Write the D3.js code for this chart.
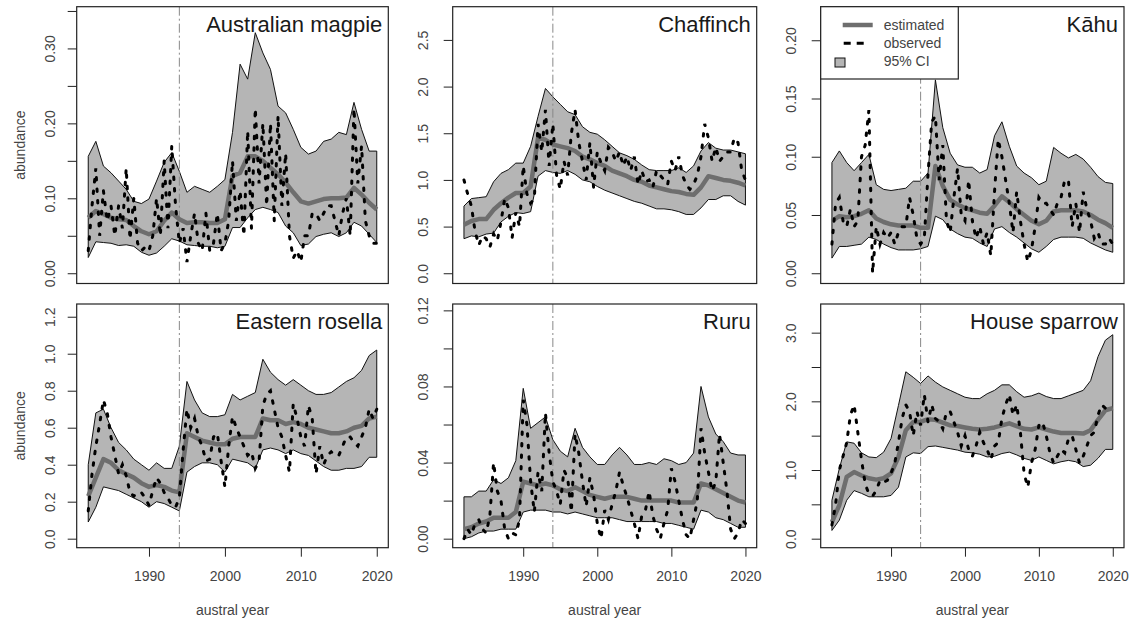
<!DOCTYPE html>
<html>
<head>
<meta charset="utf-8">
<script src="https://cdn.jsdelivr.net/npm/d3@7"></script>
<style>
  body { margin: 0; background: #fff; }
  svg { display: block; font-family: "Liberation Sans", Arial, Helvetica, sans-serif; }
</style>
</head>
<body>
<div id="chart"></div>
<script>
// annual model years and half-yearly observation times
const years = d3.range(1982, 2021);
const obsTimes = d3.range(1982, 2020.01, 0.5);
const breakYear = 1994;
const xTicks = [1990, 2000, 2010, 2020];

// Australian magpie
const magpieEst = [0.074,0.083,0.079,0.074,0.072,0.071,0.063,0.056,0.052,0.056,0.070,0.081,0.072,0.067,0.068,0.068,0.067,0.067,0.072,0.130,0.134,0.156,0.156,0.150,0.141,0.132,0.121,0.108,0.096,0.093,0.096,0.099,0.100,0.100,0.101,0.114,0.105,0.094,0.085];
const magpieLo = [0.021,0.042,0.041,0.040,0.037,0.038,0.036,0.028,0.024,0.027,0.036,0.046,0.043,0.038,0.037,0.036,0.036,0.034,0.036,0.061,0.061,0.074,0.085,0.088,0.085,0.081,0.063,0.054,0.037,0.039,0.049,0.052,0.054,0.049,0.054,0.068,0.063,0.052,0.041];
const magpieHi = [0.156,0.176,0.143,0.134,0.123,0.112,0.096,0.093,0.099,0.123,0.148,0.161,0.136,0.108,0.116,0.112,0.108,0.116,0.125,0.188,0.279,0.259,0.321,0.294,0.272,0.223,0.214,0.192,0.168,0.159,0.163,0.176,0.179,0.188,0.185,0.228,0.192,0.163,0.163];
const magpieObs = [0.03,0.09, 0.14,0.05, 0.11,0.07, 0.09,0.05, 0.09,0.06, 0.14,0.045, 0.10,0.04, 0.03,0.035, 0.03,0.05, 0.10,0.05,
  0.15,0.06, 0.17,0.09, 0.04,0.06, 0.015,0.05, 0.08,0.04, 0.03,0.08, 0.03,0.04, 0.08,0.03, 0.04,0.07, 0.15,0.07,
  0.11,0.05, 0.19,0.06, 0.22,0.12, 0.20,0.09, 0.20,0.07, 0.21,0.09, 0.16,0.05, 0.02,0.03, 0.015,0.05, 0.05,0.08,
  0.08,0.07, 0.08,0.09, 0.09,0.07, 0.05,0.08, 0.10,0.05, 0.22,0.12, 0.17,0.07, 0.05,0.04, 0.04];

// Chaffinch
const chaffEst = [0.52,0.56,0.58,0.58,0.68,0.75,0.81,0.86,0.86,0.93,1.45,1.43,1.38,1.36,1.34,1.31,1.25,1.22,1.18,1.15,1.10,1.07,1.04,1.00,0.98,0.94,0.92,0.90,0.88,0.87,0.85,0.84,0.92,1.04,1.02,1.00,0.99,0.97,0.94];
const chaffLo = [0.37,0.40,0.39,0.42,0.43,0.55,0.61,0.65,0.64,0.66,1.04,1.10,1.08,1.07,1.10,1.06,1.00,0.98,0.93,0.89,0.86,0.83,0.80,0.77,0.75,0.72,0.69,0.69,0.68,0.66,0.63,0.63,0.70,0.79,0.79,0.83,0.83,0.77,0.73];
const chaffHi = [0.72,0.80,0.81,0.82,0.98,1.07,1.11,1.18,1.18,1.36,1.68,1.98,1.89,1.81,1.73,1.70,1.57,1.51,1.49,1.43,1.36,1.29,1.26,1.22,1.16,1.11,1.10,1.10,1.10,1.13,1.08,1.15,1.31,1.40,1.34,1.32,1.32,1.30,1.28];
const chaffObs = [1.00,0.85, 0.72,0.45, 0.30,0.40, 0.37,0.28, 0.42,0.35, 0.55,0.80, 0.70,0.38, 0.65,0.50, 1.15,0.85, 0.75,0.80,
  1.60,1.30, 1.75,1.15, 1.60,1.05, 0.90,1.20, 1.05,1.50, 1.75,1.40, 1.20,1.00, 1.40,0.92, 1.30,1.18, 1.10,1.35,
  1.30,1.20, 1.30,1.15, 1.25,1.10, 1.25,0.95, 1.10,0.98, 1.00,0.92, 1.10,1.05, 1.00,0.95, 1.20,1.10, 1.25,1.05,
  0.95,0.90, 0.95,1.05, 1.25,1.60, 1.45,1.20, 1.35,1.20, 1.25,1.30, 1.30,1.45, 1.40,1.10, 1.00];

// Kāhu
const kahuEst = [0.045,0.049,0.048,0.049,0.051,0.054,0.047,0.044,0.042,0.041,0.041,0.041,0.039,0.039,0.092,0.075,0.063,0.059,0.056,0.054,0.052,0.051,0.058,0.066,0.061,0.055,0.050,0.045,0.042,0.045,0.053,0.054,0.054,0.054,0.053,0.050,0.046,0.043,0.039];
const kahuLo = [0.013,0.023,0.023,0.024,0.025,0.031,0.029,0.025,0.022,0.020,0.020,0.020,0.021,0.023,0.049,0.046,0.038,0.034,0.031,0.030,0.026,0.023,0.038,0.040,0.035,0.031,0.026,0.021,0.018,0.023,0.029,0.031,0.031,0.031,0.030,0.026,0.023,0.020,0.018];
const kahuHi = [0.095,0.105,0.095,0.088,0.095,0.102,0.076,0.072,0.071,0.072,0.073,0.079,0.079,0.086,0.166,0.125,0.103,0.093,0.091,0.091,0.086,0.089,0.118,0.130,0.109,0.092,0.086,0.082,0.076,0.079,0.108,0.103,0.099,0.102,0.098,0.091,0.083,0.078,0.077];
const kahuObs = [0.025,0.06, 0.065,0.045, 0.040,0.055, 0.040,0.045, 0.10,0.11, 0.14,0.00, 0.04,0.025, 0.035,0.03, 0.035,0.025, 0.035,0.04,
  0.04,0.065, 0.05,0.03, 0.025,0.03, 0.085,0.13, 0.135,0.08, 0.11,0.045, 0.035,0.065, 0.09,0.05, 0.045,0.08, 0.045,0.03,
  0.04,0.025, 0.035,0.015, 0.07,0.115, 0.10,0.08, 0.06,0.035, 0.07,0.045, 0.025,0.01, 0.02,0.04, 0.065,0.06, 0.06,0.055,
  0.05,0.06, 0.065,0.08, 0.08,0.04, 0.06,0.035, 0.07,0.055, 0.045,0.03, 0.035,0.025, 0.025,0.03, 0.025];

// Eastern rosella
const rosellaEst = [0.23,0.33,0.43,0.41,0.37,0.35,0.33,0.30,0.28,0.29,0.28,0.26,0.25,0.57,0.55,0.53,0.52,0.51,0.51,0.54,0.55,0.55,0.55,0.65,0.64,0.64,0.62,0.63,0.62,0.60,0.59,0.58,0.57,0.57,0.58,0.60,0.61,0.65,0.66];
const rosellaLo = [0.09,0.17,0.28,0.27,0.26,0.24,0.22,0.20,0.17,0.20,0.19,0.17,0.15,0.36,0.39,0.41,0.41,0.40,0.36,0.43,0.42,0.41,0.38,0.48,0.49,0.48,0.46,0.48,0.46,0.45,0.42,0.39,0.37,0.37,0.38,0.38,0.39,0.44,0.44];
const rosellaHi = [0.40,0.68,0.70,0.60,0.52,0.48,0.43,0.40,0.37,0.41,0.38,0.38,0.50,0.85,0.75,0.68,0.66,0.66,0.67,0.78,0.75,0.77,0.79,0.97,0.90,0.86,0.83,0.86,0.83,0.80,0.78,0.78,0.79,0.82,0.85,0.87,0.91,0.99,1.02];
const rosellaObs = [0.15,0.35, 0.50,0.62, 0.75,0.68, 0.55,0.45, 0.35,0.40, 0.34,0.25, 0.23,0.25, 0.25,0.22, 0.18,0.26, 0.33,0.30,
  0.25,0.22, 0.18,0.17, 0.22,0.48, 0.70,0.60, 0.65,0.55, 0.50,0.42, 0.43,0.55, 0.57,0.42, 0.28,0.50, 0.66,0.60,
  0.55,0.50, 0.45,0.47, 0.38,0.42, 0.72,0.78, 0.80,0.70, 0.60,0.55, 0.45,0.36, 0.73,0.65, 0.55,0.50, 0.72,0.65,
  0.35,0.50, 0.40,0.45, 0.47,0.45, 0.45,0.50, 0.55,0.55, 0.52,0.50, 0.55,0.60, 0.70,0.65, 0.70];

// Ruru
const ruruEst = [0.005,0.006,0.008,0.009,0.011,0.011,0.011,0.014,0.030,0.029,0.028,0.029,0.028,0.026,0.025,0.027,0.025,0.023,0.022,0.021,0.022,0.022,0.022,0.021,0.020,0.020,0.020,0.020,0.020,0.019,0.019,0.019,0.029,0.028,0.026,0.024,0.022,0.020,0.019];
const ruruLo = [0.000,0.001,0.003,0.004,0.004,0.005,0.005,0.005,0.014,0.015,0.015,0.015,0.014,0.014,0.013,0.014,0.013,0.012,0.011,0.011,0.011,0.010,0.009,0.009,0.009,0.009,0.009,0.008,0.008,0.007,0.006,0.005,0.015,0.014,0.011,0.010,0.008,0.006,0.006];
const ruruHi = [0.022,0.022,0.025,0.025,0.031,0.029,0.032,0.041,0.079,0.058,0.061,0.064,0.052,0.046,0.043,0.058,0.048,0.043,0.039,0.039,0.044,0.048,0.044,0.039,0.039,0.040,0.039,0.042,0.041,0.039,0.040,0.045,0.080,0.064,0.055,0.051,0.045,0.044,0.044];
const ruruObs = [0.000,0.005, 0.002,0.008, 0.010,0.005, 0.003,0.012, 0.040,0.025, 0.020,0.005, 0.000,0.003, 0.002,0.010, 0.073,0.060, 0.030,0.014,
  0.035,0.025, 0.066,0.045, 0.030,0.025, 0.018,0.036, 0.032,0.014, 0.055,0.045, 0.030,0.017, 0.032,0.023, 0.008,0.000, 0.015,0.010,
  0.018,0.025, 0.035,0.028, 0.022,0.015, 0.008,0.000, 0.012,0.015, 0.025,0.012, 0.005,0.000, 0.008,0.015, 0.037,0.030, 0.020,0.010,
  0.002,0.000, 0.010,0.020, 0.058,0.045, 0.035,0.025, 0.030,0.055, 0.040,0.025, 0.005,0.000, 0.003,0.010, 0.008];

// House sparrow
const sparrowEst = [0.24,0.49,0.90,0.97,0.92,0.88,0.86,0.88,0.95,1.19,1.58,1.70,1.70,1.74,1.73,1.69,1.65,1.64,1.62,1.60,1.59,1.60,1.62,1.65,1.68,1.64,1.60,1.59,1.62,1.59,1.56,1.54,1.54,1.54,1.53,1.58,1.73,1.87,1.90];
const sparrowLo = [0.12,0.27,0.56,0.70,0.66,0.61,0.61,0.61,0.63,0.75,1.19,1.25,1.24,1.34,1.35,1.33,1.31,1.29,1.26,1.25,1.23,1.19,1.20,1.24,1.26,1.22,1.17,1.14,1.19,1.14,1.09,1.12,1.14,1.12,1.05,1.07,1.17,1.30,1.30];
const sparrowHi = [0.56,1.02,1.41,1.39,1.25,1.19,1.18,1.26,1.46,1.94,2.43,2.35,2.26,2.37,2.28,2.21,2.16,2.11,2.06,2.04,2.04,2.11,2.16,2.24,2.24,2.14,2.06,2.08,2.12,2.07,2.04,2.04,2.08,2.12,2.16,2.30,2.65,2.89,2.97];
const sparrowObs = [0.20,0.50, 1.00,1.20, 1.40,1.80, 1.95,1.55, 1.15,0.80, 0.65,0.62, 0.70,0.85, 0.82,0.85, 0.95,1.10, 1.40,1.75,
  1.95,1.85, 1.50,1.85, 1.65,2.10, 1.70,1.95, 1.75,1.70, 1.60,1.85, 1.85,1.70, 1.55,1.35, 1.50,1.30, 1.20,1.35,
  1.55,1.40, 1.30,1.15, 1.35,1.40, 1.75,1.95, 2.10,1.80, 1.95,1.55, 0.95,0.75, 1.10,1.30, 1.65,1.70, 1.50,1.25,
  1.10,1.20, 1.30,1.25, 1.45,1.50, 1.30,1.10, 1.20,1.35, 1.50,1.55, 1.80,1.95, 1.90,1.90, 1.95];

const panels = [
  {name: "Australian magpie", est: magpieEst, lo: magpieLo, hi: magpieHi, obs: magpieObs,
   yMax: 0.342, step: 0.05, top: 0.35, every: 2, fmt: ".2f"},
  {name: "Chaffinch", est: chaffEst, lo: chaffLo, hi: chaffHi, obs: chaffObs,
   yMax: 2.746, step: 0.5, top: 2.5, every: 1, fmt: ".1f"},
  {name: "Kāhu", est: kahuEst, lo: kahuLo, hi: kahuHi, obs: kahuObs,
   yMax: 0.220, step: 0.05, top: 0.20, every: 1, fmt: ".2f"},
  {name: "Eastern rosella", est: rosellaEst, lo: rosellaLo, hi: rosellaHi, obs: rosellaObs,
   yMax: 1.22, step: 0.2, top: 1.2, every: 1, fmt: ".1f"},
  {name: "Ruru", est: ruruEst, lo: ruruLo, hi: ruruHi, obs: ruruObs,
   yMax: 0.1186, step: 0.02, top: 0.12, every: 2, fmt: ".2f"},
  {name: "House sparrow", est: sparrowEst, lo: sparrowLo, hi: sparrowHi, obs: sparrowObs,
   yMax: 3.286, step: 0.5, top: 3.0, every: 2, fmt: ".1f"}
];

// plot boxes in the 2 x 3 grid
const cols = [{left: 76.7, right: 388.3, labOff: 22}, {left: 452.7, right: 756.7, labOff: 24.5}, {left: 820.7, right: 1124, labOff: 24.5}];
const rows = [{top: 6.7, bottom: 283.5}, {top: 304, bottom: 547.7}];

const width = 1140, height = 619;
const svg = d3.select("#chart").append("svg")
    .attr("width", width)
    .attr("height", height)
    .attr("viewBox", [0, 0, width, height]);

const txt = "#444";

panels.forEach((p, i) => {
    const c = cols[i % 3], r = rows[Math.floor(i / 3)];
    const x = d3.scaleLinear().domain([1980.48, 2021.52]).range([c.left, c.right]);
    const y = d3.scaleLinear().domain([-0.04 * p.yMax, 1.04 * p.yMax]).range([r.bottom, r.top]);
    const g = svg.append("g");

    const clipId = "clip" + i;
    g.append("clipPath").attr("id", clipId)
        .append("rect")
        .attr("x", c.left).attr("y", r.top)
        .attr("width", c.right - c.left).attr("height", r.bottom - r.top);
    const plot = g.append("g").attr("clip-path", `url(#${clipId})`);

    // 95% CI band
    const band = d3.area()
        .x((d, k) => x(years[k]))
        .y0((d, k) => y(p.lo[k]))
        .y1((d, k) => y(p.hi[k]));
    plot.append("path")
        .attr("d", band(years))
        .attr("fill", "#b5b5b5")
        .attr("stroke", "#111")
        .attr("stroke-width", 1);

    // break year
    plot.append("line")
        .attr("x1", x(breakYear)).attr("x2", x(breakYear))
        .attr("y1", r.top).attr("y2", r.bottom)
        .attr("stroke", "#888")
        .attr("stroke-width", 1)
        .attr("stroke-dasharray", "9,3,2,3");

    // estimated
    plot.append("path")
        .attr("d", d3.line().x((d, k) => x(years[k])).y(d => y(d))(p.est))
        .attr("fill", "none")
        .attr("stroke", "#6e6e6e")
        .attr("stroke-width", 4.5)
        .attr("stroke-linejoin", "round");

    // observed
    plot.append("path")
        .attr("d", d3.line().x((d, k) => x(obsTimes[k])).y(d => y(d))(p.obs))
        .attr("fill", "none")
        .attr("stroke", "#000")
        .attr("stroke-width", 3)
        .attr("stroke-linecap", "round")
        .attr("stroke-dasharray", "2.5,9");

    // box
    g.append("rect")
        .attr("x", c.left).attr("y", r.top)
        .attr("width", c.right - c.left).attr("height", r.bottom - r.top)
        .attr("fill", "none")
        .attr("stroke", "#222")
        .attr("stroke-width", 1.2);

    // y axis
    const yTicks = d3.range(0, p.top + p.step / 2, p.step);
    const f = d3.format(p.fmt);
    const ya = g.append("g")
        .attr("transform", `translate(${c.left},0)`)
        .call(d3.axisLeft(y).tickValues(yTicks).tickSize(9)
            .tickFormat((d, k) => k % p.every ? "" : f(d)));
    ya.select(".domain").remove();
    ya.selectAll(".tick line").attr("stroke", "#222");
    ya.selectAll(".tick text")
        .attr("x", null).attr("dy", null)
        .attr("transform", `translate(${-c.labOff},0) rotate(-90)`)
        .attr("text-anchor", "middle")
        .attr("fill", txt)
        .style("font-size", "14px")
        .style("font-family", "inherit");

    // x axis on bottom row
    if (i >= 3) {
        const xa = g.append("g")
            .attr("transform", `translate(0,${r.bottom})`)
            .call(d3.axisBottom(x).tickValues(xTicks).tickSize(9).tickFormat(d3.format("d")));
        xa.select(".domain").remove();
        xa.selectAll(".tick line").attr("stroke", "#222");
        xa.selectAll(".tick text")
            .attr("y", 33.3).attr("dy", null)
            .attr("fill", txt)
            .style("font-size", "14px")
            .style("font-family", "inherit");
        g.append("text")
            .attr("x", (c.left + c.right) / 2).attr("y", 615)
            .attr("text-anchor", "middle")
            .attr("fill", txt)
            .style("font-size", "14px")
            .text("austral year");
    }

    // y title on left column
    if (i % 3 === 0) {
        const cy = (r.top + r.bottom) / 2;
        g.append("text")
            .attr("transform", `translate(25,${cy}) rotate(-90)`)
            .attr("text-anchor", "middle")
            .attr("fill", txt)
            .style("font-size", "14px")
            .text("abundance");
    }

    // species name
    g.append("text")
        .attr("x", c.right - 6).attr("y", r.top + 25)
        .attr("text-anchor", "end")
        .attr("fill", "#1a1a1a")
        .style("font-size", "22px")
        .text(p.name);
});

// legend in the Kāhu panel
const lg = svg.append("g");
const lx = cols[2].left, ly = rows[0].top;
lg.append("rect")
    .attr("x", lx).attr("y", ly)
    .attr("width", 137.6).attr("height", 72.3)
    .attr("fill", "#fff")
    .attr("stroke", "#222")
    .attr("stroke-width", 1.2);
lg.append("line")
    .attr("x1", lx + 22).attr("x2", lx + 52)
    .attr("y1", ly + 18.3).attr("y2", ly + 18.3)
    .attr("stroke", "#6e6e6e").attr("stroke-width", 4.5);
lg.append("line")
    .attr("x1", lx + 22).attr("x2", lx + 52)
    .attr("y1", ly + 36.6).attr("y2", ly + 36.6)
    .attr("stroke", "#000").attr("stroke-width", 3)
    .attr("stroke-dasharray", "0,1,7,6,7,30");
lg.append("rect")
    .attr("x", lx + 14.3).attr("y", ly + 51.3)
    .attr("width", 10).attr("height", 9)
    .attr("fill", "#b5b5b5")
    .attr("stroke", "#111")
    .attr("stroke-width", 1);
const legendLabels = ["estimated", "observed", "95% CI"];
lg.selectAll("text.lab")
    .data(legendLabels)
    .join("text")
    .attr("class", "lab")
    .attr("x", lx + 63)
    .attr("y", (d, k) => ly + 23 + k * 18.3)
    .attr("fill", txt)
    .style("font-size", "14px")
    .text(d => d);
</script>
</body>
</html>
